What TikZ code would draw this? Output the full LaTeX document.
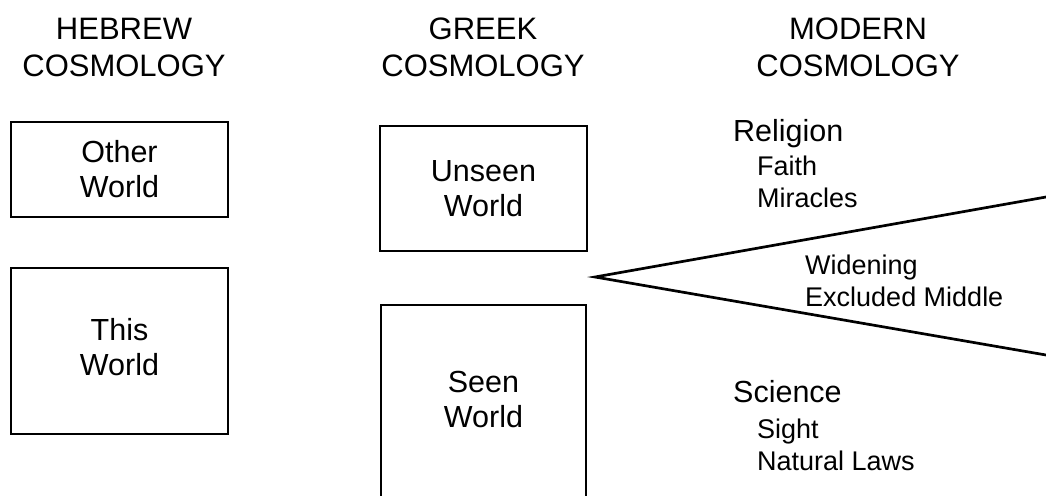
\documentclass[tikz,border=0pt]{standalone}
\usepackage{fontspec}
\setmainfont{Liberation Sans}
\begin{document}
\begin{tikzpicture}[x=1pt,y=-1pt,
  world/.style={draw, line width=2.8pt, inner sep=0pt, align=center,
    font=\fontsize{30.5}{35}\selectfont},
  worldtext/.style={inner sep=0pt, align=center, font=\fontsize{30.5}{35}\selectfont},
  head/.style={anchor=base, inner sep=0pt, font=\fontsize{31}{36}\selectfont},
  topic/.style={anchor=base west, inner sep=0pt, font=\fontsize{30.5}{36}\selectfont},
  item/.style={anchor=base west, inner sep=0pt, font=\fontsize{27}{32}\selectfont},
  wedge/.style={line width=2.7pt}]
\useasboundingbox (0,0) rectangle (1046,495);
\clip (0,0) rectangle (1046,495);

% column headings
\node[head] (h1a) at (124,40) {HEBREW};
\node[head] (h1b) at (124,76) {COSMOLOGY};
\node[head] (h2a) at (483,40) {GREEK};
\node[head] (h2b) at (483,76) {COSMOLOGY};
\node[head] (h3a) at (858,40) {MODERN};
\node[head] (h3b) at (858,76) {COSMOLOGY};

% Hebrew worlds
\node[world, minimum width=217pt, minimum height=95pt] (other) at (119.5,169.5) {Other\\World};
\node[world, minimum width=217pt, minimum height=166pt] (this) at (119.5,351) {};
\node[worldtext] (thistext) at (119.5,347) {This\\World};

% Greek worlds
\node[world, minimum width=207pt, minimum height=125pt] (unseen) at (483.5,188.5) {Unseen\\World};
\node[world, minimum width=205pt, minimum height=260pt] (seen) at (483.5,435) {};
\node[worldtext] (seentext) at (483.5,399) {Seen\\World};

% Modern cosmology
\node[topic] (religion) at (733,141) {Religion};
\node[item] (faith) at (757,175) {Faith};
\node[item] (miracles) at (757,207) {Miracles};
\node[item] (widening) at (805,274) {Widening};
\node[item] (excluded) at (805,306) {Excluded Middle};
\node[topic] (science) at (733,402) {Science};
\node[item] (sight) at (757,438) {Sight};
\node[item] (laws) at (757,470) {Natural Laws};

% the widening wedge
\coordinate (apex) at (595,277);
\coordinate (upper) at (1046,197);
\coordinate (lower) at (1046,355);
\draw[wedge] (upper) -- (apex) -- (lower);
\end{tikzpicture}
\end{document}
